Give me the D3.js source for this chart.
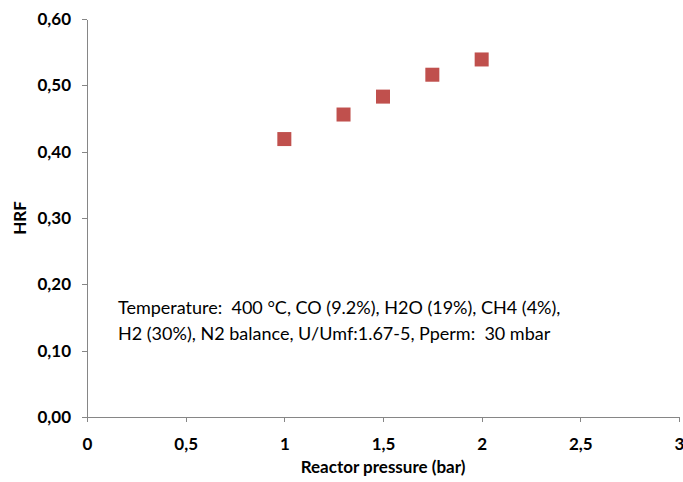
<!DOCTYPE html>
<html lang="en">
<head>
<meta charset="utf-8">
<title>HRF vs reactor pressure</title>
<script src="https://d3js.org/d3.v7.min.js"></script>
<style>
  body { margin: 0; background: #fff; }
  .axis path, .axis line { stroke: #868686; stroke-width: 1px; shape-rendering: crispEdges; }
  .axis text { font-family: Lato, sans-serif; font-weight: bold; font-size: 17px; fill: #000; }
  .lbl { font-family: Lato, sans-serif; font-weight: bold; font-size: 17px; }
  .note { font-family: Lato, sans-serif; font-size: 18px; white-space: pre; }
</style>
</head>
<body>
<div id="chart"></div>
<script>
var pressure = [1, 1.3, 1.5, 1.75, 2];
var hrf = [0.419, 0.456, 0.483, 0.516, 0.539];
var xTicks = [0, 0.5, 1, 1.5, 2, 2.5, 3];
var yTicks = [0, 0.1, 0.2, 0.3, 0.4, 0.5, 0.6];
var noteLines = ["Temperature:  400 °C, CO (9.2%), H2O (19%), CH4 (4%),",
                 "H2 (30%), N2 balance, U/Umf:1.67-5, Pperm:  30 mbar"];

var width = 683, height = 482;
var svg = d3.select("#chart").append("svg")
    .attr("width", width)
    .attr("height", height);

var x = d3.scaleLinear().domain([0, 3]).range([87, 679]);
var y = d3.scaleLinear().domain([0, 0.6]).range([417, 19]);

var comma = function(f) { return function(d) { return d3.format(f)(d).replace(".", ","); }; };

svg.append("g")
    .attr("class", "axis")
    .attr("transform", "translate(0,417)")
    .call(d3.axisBottom(x).tickValues(xTicks).tickSize(5).tickSizeOuter(0)
      .tickFormat(function(d) { return String(d).replace(".", ","); }))
    .selectAll("text").attr("dy", "1.45em");

svg.append("g")
    .attr("class", "axis")
    .attr("transform", "translate(87,0)")
    .call(d3.axisLeft(y).tickValues(yTicks).tickSize(5).tickSizeOuter(0).tickFormat(comma(".2f")))
    .selectAll("text").attr("x", -16);

var s = 14;
svg.selectAll("rect.pt")
    .data(pressure)
    .enter().append("rect")
    .attr("class", "pt")
    .attr("x", function(d) { return x(d) - s / 2; })
    .attr("y", function(d, i) { return y(hrf[i]) - s / 2; })
    .attr("width", s)
    .attr("height", s)
    .attr("fill", "#C0504D");

svg.append("text")
    .attr("class", "lbl")
    .attr("x", 383).attr("y", 473)
    .attr("text-anchor", "middle")
    .text("Reactor pressure (bar)");

svg.append("text")
    .attr("class", "lbl")
    .attr("transform", "translate(26,218) rotate(-90)")
    .attr("text-anchor", "middle")
    .text("HRF");

svg.selectAll("text.note")
    .data(noteLines)
    .enter().append("text")
    .attr("class", "note")
    .attr("x", 118)
    .attr("y", function(d, i) { return 314 + i * 26; })
    .text(function(d) { return d; });
</script>
</body>
</html>
